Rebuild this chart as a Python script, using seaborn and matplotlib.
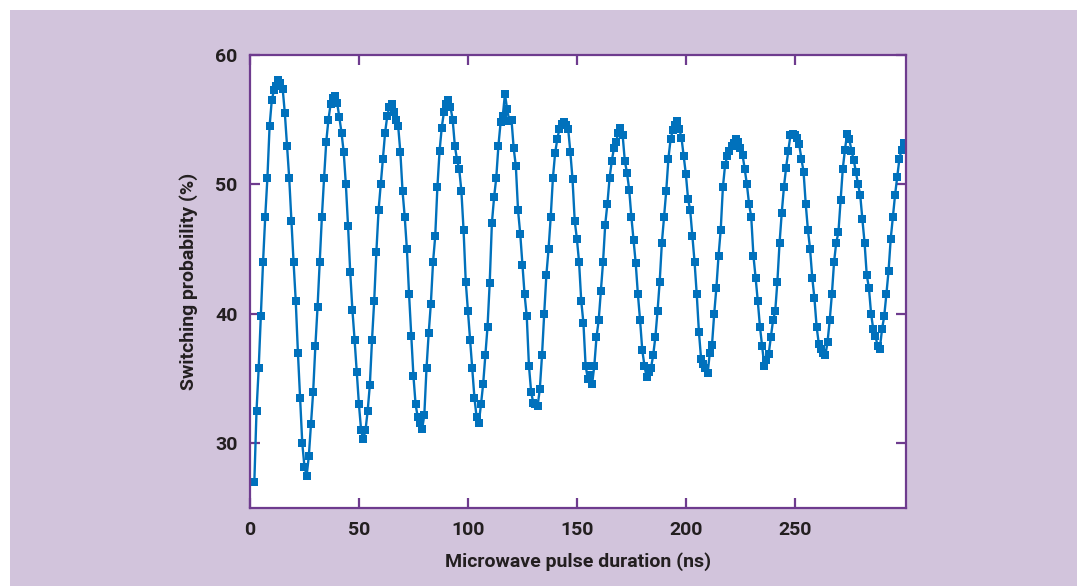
import numpy as np
import pandas as pd
import matplotlib
matplotlib.use("Agg")
import matplotlib.pyplot as plt
from matplotlib.patches import Rectangle
import seaborn as sns

# pulse durations in ns, one sample per ns
pulse_ns = np.arange(2, 301)

# switching probability (%), t = 2 ... 300 ns
switching_pct = [
    27.0, 32.5, 35.8, 39.8, 44.0, 47.5, 50.5, 54.5, 56.5, 57.3, 57.6, 58.1,
    57.8, 57.4, 55.5, 53.0, 50.5, 47.2, 44.0, 41.0, 37.0, 33.5, 30.0, 28.2, 27.5,
    29.0, 31.5, 34.0, 37.5, 40.5, 44.0, 47.5, 50.5, 53.3, 55.0, 56.2, 56.7, 56.8,
    56.3, 55.2, 54.0, 52.5, 50.0, 46.8, 43.2, 40.3, 38.0, 35.5, 33.0, 31.0, 30.3,
    31.0, 32.5, 34.5, 38.0, 41.0, 44.8, 48.0, 50.0, 52.0, 54.0, 55.3, 56.0, 56.2,
    55.6, 55.0, 54.5, 52.5, 49.5, 47.5, 45.0, 41.5, 38.3, 35.2, 33.0, 32.0, 31.6,
    31.1, 32.2, 35.8, 38.5, 40.8, 44.0, 46.0, 49.8, 52.6, 54.4, 55.6, 56.2, 56.5,
    56.0, 55.0, 53.0, 51.9, 51.2, 49.5, 46.5, 42.5, 40.2, 38.0, 35.8, 33.5, 32.0,
    31.6, 33.0, 34.6, 36.8, 39.0, 42.4, 47.0, 49.0, 50.5, 53.0, 54.8, 55.3, 57.0,
    55.8, 54.9, 55.0, 52.8, 51.4, 48.0, 46.2, 43.8, 41.5, 39.8, 36.0, 34.0, 33.1,
    33.0, 32.9, 34.2, 36.8, 40.0, 43.0, 45.0, 47.5, 50.5, 52.4, 53.5, 54.3, 54.7,
    54.8, 54.6, 54.3, 52.5, 50.4, 47.2, 45.8, 44.0, 41.0, 39.3, 36.0, 35.0, 35.3,
    34.6, 36.0, 38.2, 39.5, 41.8, 44.0, 46.9, 48.5, 50.5, 51.8, 52.8, 53.3, 54.0,
    54.4, 53.8, 51.8, 50.9, 49.6, 47.5, 45.7, 43.9, 41.5, 39.5, 37.2, 36.0, 35.1,
    35.5, 35.8, 36.8, 38.2, 40.2, 42.5, 45.5, 47.5, 49.5, 52.0, 53.5, 54.2, 54.6,
    54.9, 54.3, 53.6, 52.2, 50.8, 48.9, 48.0, 46.0, 44.0, 41.5, 38.6, 36.5, 36.1,
    35.8, 35.4, 37.0, 37.6, 40.0, 42.0, 44.5, 46.5, 49.8, 51.5, 52.2, 52.6, 53.0,
    53.2, 53.5, 53.3, 52.8, 52.3, 51.2, 50.0, 48.5, 47.5, 44.5, 42.8, 41.0, 39.0,
    37.5, 36.0, 36.4, 36.9, 38.2, 39.5, 40.2, 42.5, 45.5, 47.8, 49.8, 51.3, 52.6,
    53.8, 53.9, 53.8, 53.6, 53.1, 52.0, 51.0, 48.5, 46.5, 45.0, 42.8, 41.2, 39.0,
    37.7, 37.3, 37.0, 36.8, 37.8, 39.5, 41.5, 44.0, 45.5, 46.3, 48.8, 51.2, 52.7,
    53.9, 53.5, 52.6, 51.9, 51.0, 50.0, 49.2, 47.3, 45.5, 43.0, 42.0, 40.0, 38.8,
    38.3, 37.5, 37.3, 38.8, 39.8, 41.5, 43.3, 45.8, 47.5, 49.2, 50.6, 52.0, 52.7, 53.2,
]

x_ticks = [0, 50, 100, 150, 200, 250]
y_ticks = [30, 40, 50, 60]

BLUE = "#0071bc"
PURPLE = "#6e3b8e"
LAVENDER = "#d2c4dc"
TEXT = "#231f20"

sns.set_theme(style="white")
plt.rcParams["font.family"] = ["Roboto", "DejaVu Sans"]

df = pd.DataFrame({"pulse": pulse_ns, "prob": switching_pct})

fig = plt.figure(figsize=(10.77, 5.86), dpi=100, facecolor="white")
fig.patches.append(Rectangle((10 / 1077, 0), 1, 1 - 10 / 586, transform=fig.transFigure,
                             facecolor=LAVENDER, edgecolor="none", zorder=-1))
ax = fig.add_axes([0.2321, 0.1331, 0.6091, 0.7730])
ax.set_facecolor("white")

sns.lineplot(data=df, x="pulse", y="prob", ax=ax, color=BLUE, linewidth=1.7,
             marker="s", markersize=6.3, markeredgewidth=0, markerfacecolor=BLUE)

ax.set_xlim(0, 301)
ax.set_ylim(25, 60)
ax.set_xticks(x_ticks)
ax.set_yticks(y_ticks)

for s in ax.spines.values():
    s.set_color(PURPLE)
    s.set_linewidth(1.6)

ax.tick_params(axis="both", direction="in", length=7, width=1.6, color=PURPLE,
               top=True, right=True, bottom=True, left=True,
               labelsize=14, labelcolor=TEXT, pad=9)
for lab in ax.get_xticklabels() + ax.get_yticklabels():
    lab.set_fontweight("bold")

ax.set_xlabel("Microwave pulse duration (ns)", fontsize=14, fontweight="bold",
              color=TEXT, labelpad=10)
ax.set_ylabel("Switching probability (%)", fontsize=14, fontweight="bold",
              color=TEXT, labelpad=12)

fig.savefig("out.png", dpi=100, facecolor=fig.get_facecolor())
